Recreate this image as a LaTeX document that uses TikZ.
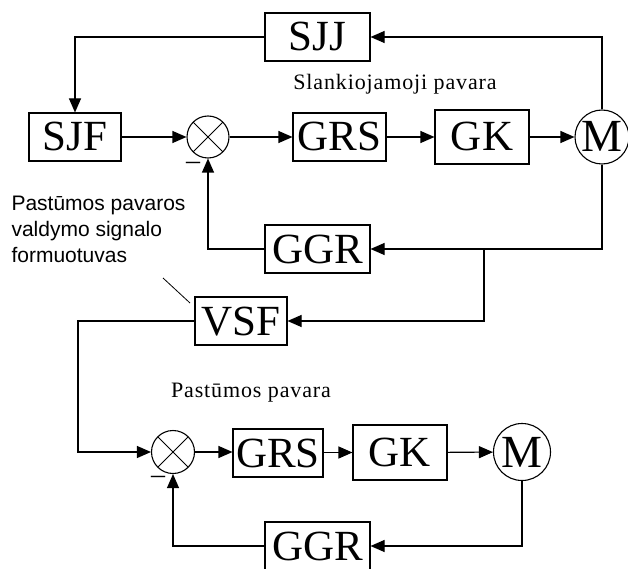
\documentclass[tikz,border=0pt]{standalone}
\usepackage{fontspec}
\setmainfont{Liberation Serif}
\newfontfamily\annsans{Liberation Sans}
\usetikzlibrary{arrows.meta,positioning}
\newcommand{\blkfont}{\fontsize{43}{43}\selectfont}

\begin{document}
\begin{tikzpicture}[x=1pt,y=-1pt,line width=1.1pt,
    blk/.style={draw,inner sep=0pt,minimum height=48pt,font=\blkfont,
                text height=28pt,text depth=0pt},
    summer/.style={draw,circle,minimum size=42pt,inner sep=0pt,
                   path picture={\draw[line width=0.8pt]
                     (path picture bounding box.north west)
                     -- (path picture bounding box.south east)
                     (path picture bounding box.north east)
                     -- (path picture bounding box.south west);}},
    motor/.style={draw,circle,inner sep=0pt,font=\fontsize{46}{46}\selectfont,
                  text height=30pt,text depth=0pt},
    sig/.style={-{Triangle[length=14pt,width=12pt]}},
    drive/.style={font=\fontsize{22}{22}\selectfont\addfontfeature{LetterSpace=4},
                  anchor=base,inner sep=0pt},
    minus/.style={font=\fontsize{28}{28}\selectfont,inner sep=0pt}]
  \useasboundingbox (0,0) rectangle (628,569);

  \node[blk,minimum width=105pt] (sjj) at (317.5,37) {SJJ};
  \node[blk,minimum width=92pt] (sjf) at (75,137) {SJF};
  \node[summer] (s1) at (208,137) {};
  \node[blk,minimum width=93pt] (grs1) at (339.5,137) {GRS};
  \node[blk,minimum width=94pt,minimum height=54pt] (gk1) at (482,137) {GK};
  \node[motor,minimum size=54pt] (m1) at (602,137) {M};
  \node[blk,minimum width=105pt] (ggr1) at (317.5,249) {GGR};
  \node[blk,minimum width=92pt] (vsf) at (241,321) {VSF};
  \node[summer,minimum size=43pt] (s2) at (173,452) {};
  \node[blk,minimum width=90pt] (grs2) at (278,453) {GRS};
  \node[blk,minimum width=94pt,minimum height=55pt] (gk2) at (400,452.5) {GK};
  \node[motor,minimum size=57pt] (m2) at (522,452) {M};
  \node[blk,minimum width=105pt] (ggr2) at (317.5,546) {GGR};

  \node[drive] (slank) at (395,90) {Slankiojamoji pavara};
  \node[drive] (pastpav) at (251,397) {Pastūmos pavara};
  \node[minus] (minus1) at (193,166) {--};
  \node[minus] (minus2) at (158,480) {--};
  \node[font=\annsans\fontsize{21}{26}\selectfont,align=left,anchor=north west,
        inner sep=0pt] (annot) at (11,196)
    {Pastūmos pavaros\\valdymo signalo\\formuotuvas};

  \coordinate (br) at (484,249);
  \coordinate (turn) at (78,321);
  \coordinate (annfoot) at (163,278);
  \coordinate (vsfpt) at (190,303);

  \draw[sig] (sjj.west) -| (sjf.north);
  \draw[sig] (sjf) -- (s1);
  \draw[sig] (s1) -- (grs1);
  \draw[sig] (grs1) -- (gk1);
  \draw[sig] (gk1) -- (m1);
  \draw[sig] (m1.north) |- (sjj.east);
  \draw[sig] (m1.south) |- (ggr1.east);
  \draw[sig] (ggr1.west) -| (s1.south);
  \draw[sig] (br) |- (vsf.east);
  \draw[sig] (vsf.west) -- (turn) |- (s2.west);
  \draw[sig] (s2.east) -- (s2.east -| grs2.west);
  \draw[sig] (grs2.east |- gk2.west) -- (gk2.west);
  \draw[sig] (gk2) -- (m2);
  \draw[sig] (m2.south) |- (ggr2.east);
  \draw[sig] (ggr2.west) -| (s2.south);
  \draw[line width=0.8pt] (annfoot) -- (vsfpt);
\end{tikzpicture}
\end{document}
